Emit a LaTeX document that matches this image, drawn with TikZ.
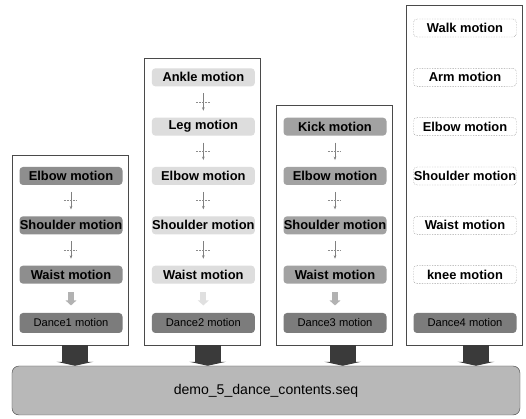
\documentclass[tikz,border=0pt]{standalone}
\usepackage{fontspec}
\setmainfont{Liberation Sans}
\definecolor{FrameGray}{HTML}{4A4A4A}
\definecolor{MotionDark}{HTML}{8E8E8E}
\definecolor{MotionMid}{HTML}{A2A2A2}
\definecolor{MotionLight}{HTML}{DDDDDD}
\definecolor{DanceGray}{HTML}{7C7C7C}
\definecolor{BaseGray}{HTML}{B8B8B8}
\definecolor{FeedDark}{HTML}{3A3A3A}
\usetikzlibrary{
  arrows.meta
}

\begin{document}
\begin{tikzpicture}[
  frame/.style={
    rectangle, draw=FrameGray, line width=0.6pt, fill=white,
    minimum width=3.48cm
  },
  motion/.style={
    rectangle, rounded corners=3pt, inner sep=0pt,
    minimum width=3.09cm, minimum height=0.54cm,
    font=\fontsize{11}{13}\selectfont\bfseries
  },
  dance/.style={
    motion, minimum height=0.6cm, fill=DanceGray,
    font=\fontsize{9.5}{11}\selectfont
  },
  open/.style={
    motion, fill=white, draw=black!55, densely dotted
  },
  link/.style={
    draw=black!50, line width=0.5pt, -{Stealth[length=3pt]},
    shorten <=0.2cm, shorten >=0.2cm
  },
  tick/.style={
    draw=black!45, line width=0.6pt, dash pattern=on 1.5pt off 1pt
  },
  step down/.style={
    draw=#1, line width=0.18cm,
    -{Triangle[width=0.32cm, length=0.15cm]},
    shorten <=0.25cm, shorten >=0.22cm
  },
  feed/.style={
    draw=FeedDark, line width=0.78cm,
    -{Triangle[width=1.1cm, length=0.12cm]}
  }
]
  \useasboundingbox (0,0) rectangle (15.78,12.57);

  % Shared sequence file
  \node[rectangle, rounded corners=6pt, draw=FrameGray, fill=BaseGray,
    minimum width=15.24cm, minimum height=1.47cm,
    font=\fontsize{12}{14}\selectfont]
    (base) at (7.98,0.855) {demo\_5\_dance\_contents.seq};

  % Frames of the four dances
  \node[frame, minimum height=5.70cm] (f1) at (2.10,5.07) {};
  \node[frame, minimum height=8.61cm] (f2) at (6.08,6.525) {};
  \node[frame, minimum height=7.20cm] (f3) at (10.04,5.82) {};
  \node[frame, minimum height=10.20cm] (f4) at (13.92,7.32) {};

  % Dance 1
  \node[motion, fill=MotionDark] (e1) at (2.13,7.29) {Elbow motion};
  \node[motion, fill=MotionDark] (s1) at (2.13,5.81) {Shoulder motion};
  \node[motion, fill=MotionDark] (w1) at (2.13,4.33) {Waist motion};
  \node[dance] (d1) at (2.13,2.88) {Dance1 motion};

  % Dance 2
  \node[motion, fill=MotionLight] (a2) at (6.10,10.25) {Ankle motion};
  \node[motion, fill=MotionLight] (l2) at (6.10,8.77) {Leg motion};
  \node[motion, fill=MotionLight] (e2) at (6.10,7.29) {Elbow motion};
  \node[motion, fill=MotionLight] (s2) at (6.10,5.81) {Shoulder motion};
  \node[motion, fill=MotionLight] (w2) at (6.10,4.33) {Waist motion};
  \node[dance] (d2) at (6.10,2.88) {Dance2 motion};

  % Dance 3
  \node[motion, fill=MotionMid] (k3) at (10.05,8.77) {Kick motion};
  \node[motion, fill=MotionMid] (e3) at (10.05,7.29) {Elbow motion};
  \node[motion, fill=MotionMid] (s3) at (10.05,5.81) {Shoulder motion};
  \node[motion, fill=MotionMid] (w3) at (10.05,4.33) {Waist motion};
  \node[dance] (d3) at (10.05,2.88) {Dance3 motion};

  % Dance 4
  \node[open] (wk4) at (13.95,11.73) {Walk motion};
  \node[open] (ar4) at (13.95,10.25) {Arm motion};
  \node[open] (e4) at (13.95,8.77) {Elbow motion};
  \node[open] (s4) at (13.95,7.29) {Shoulder motion};
  \node[open] (w4) at (13.95,5.81) {Waist motion};
  \node[open] (kn4) at (13.95,4.33) {knee motion};
  \node[dance] (d4) at (13.95,2.88) {Dance4 motion};

  % Links inside the frames
  \foreach \a/\b in {e1/s1, s1/w1, a2/l2, l2/e2, e2/s2, s2/w2,
                     k3/e3, e3/s3, s3/w3}
  {
    \draw[link] (\a) -- coordinate[midway] (mid) (\b);
    \draw[tick] ([xshift=-6pt]mid) -- ([xshift=6pt]mid);
  }

  \draw[step down=black!30] (w1) -- (d1);
  \draw[step down=black!12] (w2) -- (d2);
  \draw[step down=black!30] (w3) -- (d3);

  % Frames into the sequence file
  \foreach \f/\dx in {f1/0.15, f2/0.15, f3/0.24, f4/0.36}
    \draw[feed] ([xshift=\dx cm]\f.south) -- ([xshift=\dx cm]\f.south |- base.north);
\end{tikzpicture}
\end{document}
